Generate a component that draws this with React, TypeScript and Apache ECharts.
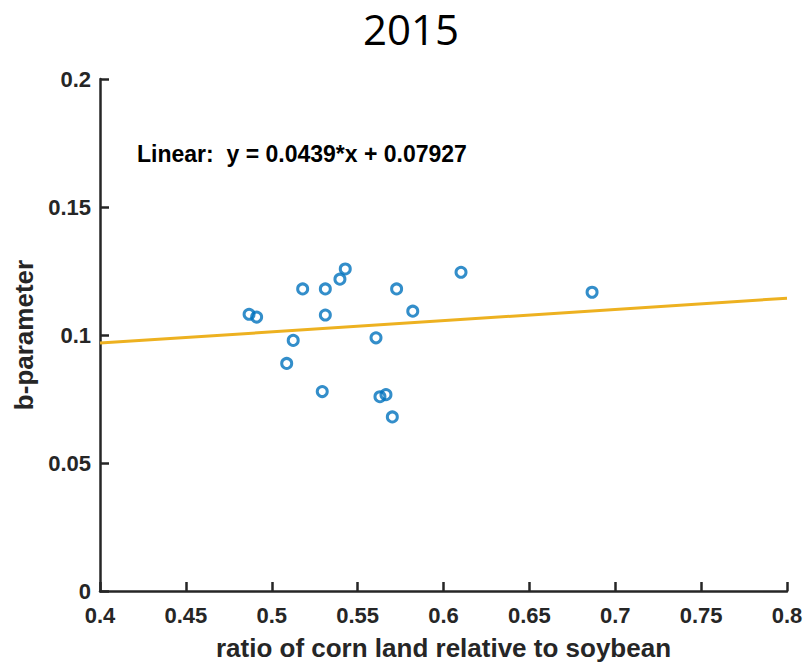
import React, { useEffect, useRef } from "react";
import * as echarts from "echarts";

const title = "2015";
const xName = "ratio of corn land relative to soybean";
const yName = "b-parameter";
const ratioX = [0.4868, 0.4912, 0.518, 0.5312, 0.5397, 0.5428, 0.5312, 0.5125, 0.5087, 0.5294, 0.5607, 0.5727, 0.5821, 0.563, 0.5665, 0.5702, 0.6102, 0.6865];
const bParam = [0.1081, 0.107, 0.118, 0.118, 0.1218, 0.1258, 0.1078, 0.0979, 0.0889, 0.0779, 0.0989, 0.118, 0.1093, 0.0759, 0.0767, 0.068, 0.1245, 0.1167];
const slope = 0.0439;
const intercept = 0.07927;
const fitX = [0.4, 0.8];
const fitLabel = "Linear:  y = 0.0439*x + 0.07927";

export default function App() {
  const ref = useRef<HTMLDivElement>(null);
  useEffect(() => {
    if (!ref.current) return;
    const chart = echarts.init(ref.current, null, { renderer: "svg" });
    const axisCommon = {
      axisLine: { show: true, lineStyle: { color: "#262626", width: 2.5 } },
      axisTick: { show: true, inside: true, length: 9, lineStyle: { color: "#262626", width: 2.5 } },
      splitLine: { show: false },
      axisLabel: { color: "#262626", fontFamily: "Liberation Sans", fontWeight: "bold", fontSize: 22 },
    };
    const nameStyle = { fontFamily: "Liberation Sans", fontWeight: "bold", fontSize: 26, color: "#262626" };
    chart.setOption({
      animation: false,
      backgroundColor: "#ffffff",
      grid: { left: 100, right: 21, top: 79, bottom: 75, outerBoundsMode: "none", containLabel: false },
      xAxis: {
        type: "value",
        min: 0.4,
        max: 0.8,
        interval: 0.05,
        name: xName,
        nameLocation: "middle",
        nameGap: 44,
        nameTextStyle: nameStyle,
        ...axisCommon,
        axisLabel: { ...axisCommon.axisLabel, margin: 13, formatter: (v: number) => String(+v.toFixed(2)) },
      },
      yAxis: {
        type: "value",
        min: 0,
        max: 0.2,
        interval: 0.05,
        name: yName,
        nameLocation: "middle",
        nameGap: 58,
        nameTextStyle: nameStyle,
        ...axisCommon,
        axisLabel: { ...axisCommon.axisLabel, margin: 9, formatter: (v: number) => String(+v.toFixed(2)) },
      },
      graphic: [
        {
          type: "text",
          x: 411,
          y: 7,
          style: {
            text: title,
            fontFamily: "Open Sans",
            fontSize: 42,
            fill: "#000",
            align: "center",
            verticalAlign: "top",
          },
        },
        {
          type: "text",
          left: 137,
          top: 142,
          style: { text: fitLabel, fontFamily: "Liberation Sans", fontWeight: "bold", fontSize: 23, fill: "#000" },
        },
      ],
      series: [
        {
          type: "line",
          data: fitX.map((x) => [x, slope * x + intercept]),
          showSymbol: false,
          lineStyle: { color: "#EDB120", width: 3 },
          z: 1,
        },
        {
          type: "scatter",
          data: ratioX.map((x, i) => [x, bParam[i]]),
          symbol: "circle",
          symbolSize: 10,
          itemStyle: { color: "rgba(255,255,255,0)", borderColor: "#0072BD", borderWidth: 3 },
          z: 2,
        },
      ],
    });
    return () => chart.dispose();
  }, []);
  return <div ref={ref} style={{ position: "absolute", left: 0, top: 0, width: 808, height: 666 }} />;
}
